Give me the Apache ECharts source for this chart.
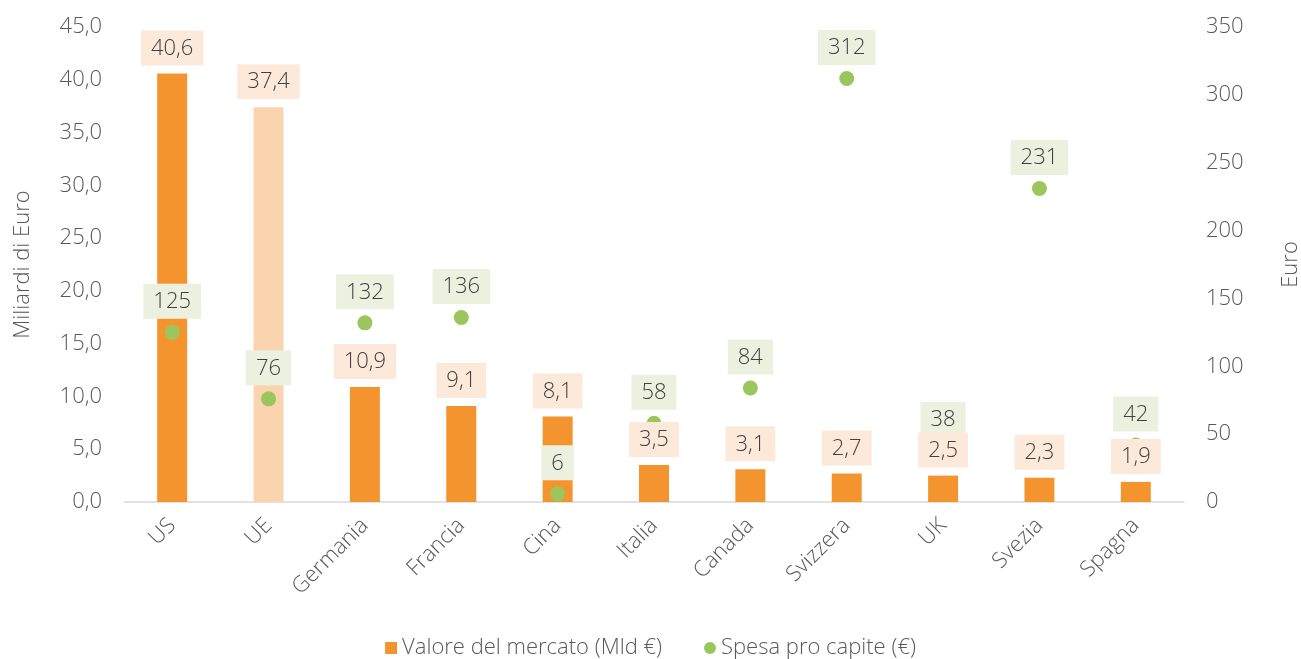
<!DOCTYPE html>
<html><head><meta charset="utf-8">
<script src="https://cdn.jsdelivr.net/npm/echarts@6/dist/echarts.min.js"></script>
<style>html,body{margin:0;padding:0;background:#fff}#c{width:1301px;height:659px}</style>
</head><body><div id="c"></div>
<script>
const categories = ['US','UE','Germania','Francia','Cina','Italia','Canada','Svizzera','UK','Svezia','Spagna'];
const marketValue = [40.6,37.4,10.9,9.1,8.1,3.5,3.1,2.7,2.5,2.3,1.9];
const perCapita = [125,76,132,136,6,58,84,312,38,231,42];
const highlightIndex = 1;
const FONT = '"Open Sans", sans-serif';
const FW = 300;
const chart = echarts.init(document.getElementById('c'));
const fmtC = v => String(v.toFixed(1)).replace('.', ',');
const ts = {fontSize:22,color:'#595959',fontFamily:FONT,fontWeight:FW};
chart.setOption({
  animation:false,
  textStyle:{fontFamily:FONT},
  grid:{left:124,right:117,top:27,bottom:157,containLabel:false,outerBoundsMode:'none'},
  legend:{bottom:0,padding:0,left:'center',itemGap:42,itemWidth:12,itemHeight:12,
    textStyle:Object.assign({},ts),
    data:[{name:'Valore del mercato (Mld €)',icon:'rect'},{name:'Spesa pro capite (€)',icon:'circle'}]},
  xAxis:{type:'category',data:categories,
    axisLine:{lineStyle:{color:'#d9d9d9',width:1.5}},axisTick:{show:false},
    axisLabel:Object.assign({rotate:45,margin:20},ts)},
  yAxis:[{type:'value',min:0,max:45,interval:5,name:'Miliardi di Euro',nameLocation:'middle',nameGap:90,
    nameTextStyle:Object.assign({},ts),
    splitLine:{show:false},axisLine:{show:false},
    axisLabel:Object.assign({margin:22,formatter:v=>fmtC(v)},ts)},
   {type:'value',min:0,max:350,interval:50,name:'Euro',nameLocation:'middle',nameGap:96,nameRotate:90,
    nameTextStyle:Object.assign({},ts),
    splitLine:{show:false},axisLine:{show:false},
    axisLabel:Object.assign({margin:22},ts)}],
  series:[{name:'Valore del mercato (Mld €)',type:'bar',barWidth:30,yAxisIndex:0,z:2,
    itemStyle:{color:'#f4942f'},
    data:marketValue.map((v,i)=>i===highlightIndex?{value:v,itemStyle:{color:'#fad4ae'}}:v)},
   {name:'Spesa pro capite (€)',type:'scatter',yAxisIndex:1,symbolSize:15,z:3,
    itemStyle:{color:'#9bc65e',opacity:1},data:perCapita,
    label:{show:true,position:'top',distance:6,fontSize:22,color:'#404040',fontFamily:FONT,fontWeight:FW,
      backgroundColor:'#ebf1de',padding:[7,10,6,10]}},
   {name:'barLabels',type:'bar',barWidth:30,barGap:'-100%',yAxisIndex:0,z:4,silent:true,
    itemStyle:{color:'rgba(0,0,0,0)'},data:marketValue,
    label:{show:true,position:'top',distance:8,fontSize:22,color:'#404040',fontFamily:FONT,fontWeight:FW,
      backgroundColor:'#fde9d9',padding:[7,10,6,10],formatter:p=>fmtC(p.value)}}]
});
</script></body></html>
